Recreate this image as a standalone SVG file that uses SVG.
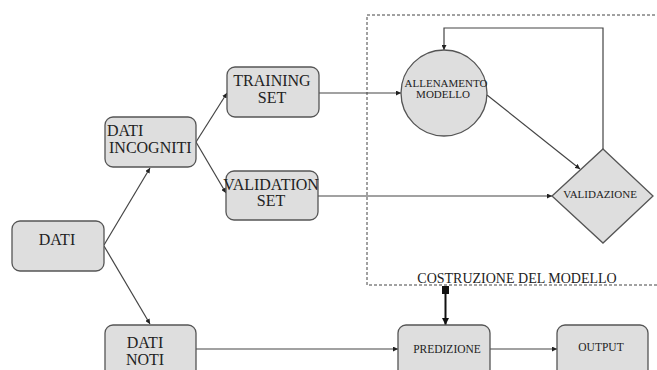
<svg xmlns="http://www.w3.org/2000/svg" width="657" height="370" viewBox="0 0 657 370">
<defs>
<style>
.node{fill:#dedede;stroke:#555;stroke-width:1.3}
.t{font-family:'Liberation Serif','Times New Roman',Times,'DejaVu Serif',serif;fill:#222;text-anchor:middle}
.edge{fill:none;stroke:#444;stroke-width:1.2}
</style>
<marker id="ah" viewBox="0 0 10 10" refX="10" refY="5" markerWidth="5" markerHeight="5" markerUnits="userSpaceOnUse" orient="auto"><path d="M0,0 L10,5 L0,10 Z" fill="#222"/></marker>
<marker id="ahb" viewBox="0 0 10 10" refX="10" refY="5" markerWidth="12" markerHeight="7" markerUnits="userSpaceOnUse" orient="auto"><path d="M0,0 L10,5 L0,10 Z" fill="#111"/></marker>
</defs>
<rect width="657" height="370" fill="#fff"/>
<g id="cluster">
<path d="M657,285 L367,285 L367,15 L657,15" fill="none" stroke="#444" stroke-width="1" stroke-dasharray="3,2"/>
<text class="t" x="517" y="283" font-size="14" font-family="Liberation Serif, serif">COSTRUZIONE DEL MODELLO</text>
</g>
<g id="edges">
<path class="edge" d="M104,245 L150,168" marker-end="url(#ah)"/>
<path class="edge" d="M104,246 L150,324" marker-end="url(#ah)"/>
<path class="edge" d="M196,142 L227,93" marker-end="url(#ah)"/>
<path class="edge" d="M196,142 L226,193" marker-end="url(#ah)"/>
<path class="edge" d="M319,93 L401,93" marker-end="url(#ah)"/>
<path class="edge" d="M318,196 L552,196" marker-end="url(#ah)"/>
<path class="edge" d="M487,95 L580,169" marker-end="url(#ah)"/>
<path class="edge" d="M603,149 L603,28 L444,28 L444,50" marker-end="url(#ah)"/>
<path class="edge" d="M196,349 L398,349" marker-end="url(#ah)"/>
<path class="edge" d="M490,349 L557,349" marker-end="url(#ah)"/>
<rect x="442" y="286" width="7" height="8" fill="#111"/>
<path d="M445.5,294 L445.5,325" fill="none" stroke="#111" stroke-width="2" marker-end="url(#ahb)"/>
</g>
<g id="dati">
<rect class="node" x="12" y="221" width="92" height="50" rx="8"/>
<text class="t" x="57" y="245" font-size="16">DATI</text>
</g>
<g id="dati_incogniti">
<rect class="node" x="105" y="117" width="91" height="50" rx="8"/>
<text class="t" x="107" y="136" font-size="16" style="text-anchor:start">DATI</text>
<text class="t" x="109" y="153" font-size="16" style="text-anchor:start">INCOGNITI</text>
</g>
<g id="dati_noti">
<rect class="node" x="105" y="325" width="91" height="55" rx="8"/>
<text class="t" x="145" y="348" font-size="16">DATI</text>
<text class="t" x="145" y="365" font-size="16">NOTI</text>
</g>
<g id="training_set">
<rect class="node" x="227" y="67" width="92" height="50" rx="8"/>
<text class="t" x="272" y="86" font-size="16">TRAINING</text>
<text class="t" x="272" y="103" font-size="16">SET</text>
</g>
<g id="validation_set">
<rect class="node" x="226" y="171" width="92" height="49" rx="8"/>
<text class="t" x="271" y="190" font-size="16">VALIDATION</text>
<text class="t" x="271" y="206" font-size="16">SET</text>
</g>
<g id="allenamento">
<circle class="node" cx="444" cy="93" r="43"/>
<text class="t" x="446" y="87" font-size="11">ALLENAMENTO</text>
<text class="t" x="443" y="98" font-size="11">MODELLO</text>
</g>
<g id="validazione">
<polygon class="node" points="603,149 653,196 603,243 552,196"/>
<text class="t" x="600" y="198" font-size="11">VALIDAZIONE</text>
</g>
<g id="predizione">
<rect class="node" x="398" y="325" width="92" height="55" rx="8"/>
<text class="t" x="447" y="353" font-size="11.5">PREDIZIONE</text>
</g>
<g id="output">
<rect class="node" x="557" y="325" width="91" height="55" rx="8"/>
<text class="t" x="601" y="351" font-size="11.5">OUTPUT</text>
</g>
</svg>
